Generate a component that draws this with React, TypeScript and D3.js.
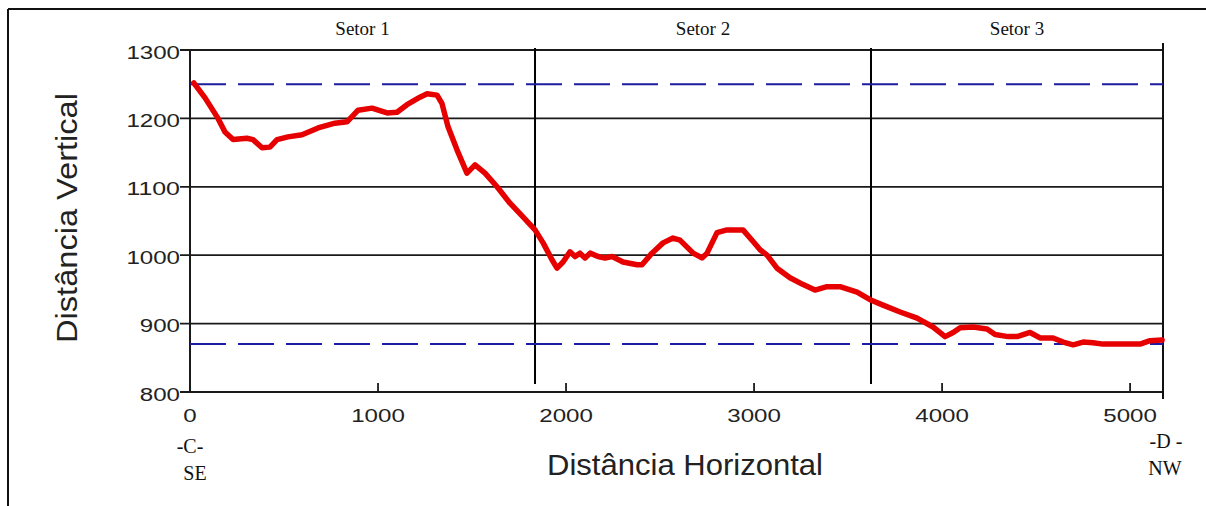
import React from "react";
import * as d3 from "d3";

// perfil: distância horizontal (m) x cota (m)
const distancias = [
  20, 80, 149, 186, 229, 303, 335, 383, 425, 463, 521, 596, 681, 771, 835, 894,
  968, 1048, 1101, 1154, 1223, 1261, 1314, 1340, 1372, 1420, 1473, 1516, 1569,
  1633, 1702, 1771, 1835, 1878, 1926, 1952, 1984, 2021, 2048, 2074, 2101, 2128,
  2170, 2207, 2245, 2303, 2378, 2404, 2457, 2516, 2569, 2606, 2676, 2723, 2750,
  2803, 2856, 2941, 2995, 3032, 3069, 3122, 3191, 3261, 3324, 3388, 3457, 3548,
  3617, 3686, 3777, 3867, 3952, 4016, 4059, 4096, 4165, 4239, 4282, 4351, 4399,
  4468, 4521, 4590, 4644, 4697, 4750, 4803, 4856, 4963, 5053, 5106, 5170,
];
const cotas = [
  1252, 1230, 1200, 1180, 1169, 1171, 1169, 1157, 1158, 1169, 1173, 1176, 1186,
  1193, 1195, 1212, 1215, 1208, 1209, 1220, 1231, 1236, 1234, 1222, 1188, 1154,
  1120, 1132, 1120, 1100, 1076, 1056, 1037, 1018, 993, 981, 990, 1005, 998,
  1003, 996, 1003, 998, 996, 998, 990, 986, 986, 1003, 1018, 1025, 1022, 1003,
  996, 1003, 1033, 1037, 1037, 1020, 1008, 1000, 981, 967, 957, 949, 954, 954,
  946, 935, 927, 917, 908, 895, 881, 887, 894, 895, 892, 884, 881, 881, 887,
  879, 879, 873, 869, 873, 872, 870, 870, 870, 875, 876,
];

const yTicks = [800, 900, 1000, 1100, 1200, 1300];
const xTicks = [0, 1000, 2000, 3000, 4000, 5000];
const limites = [1250, 870]; // linhas tracejadas
const setores = ["Setor 1", "Setor 2", "Setor 3"];
const divisoes = [1835, 3622];
const xMax = 5175;

const App = () => {
  const width = 1206;
  const height = 506;
  const left = 190;
  const right = 1163;
  const top = 50;
  const bottom = 392;

  const x = d3.scaleLinear().domain([0, xMax]).range([left, right]);
  const y = d3.scaleLinear().domain([800, 1300]).range([bottom, top]);

  const pontos = distancias.map((d, i) => [d, cotas[i]] as [number, number]);
  const linha = d3
    .line<[number, number]>()
    .x((d) => x(d[0]))
    .y((d) => y(d[1]));

  const bordas = [0, ...divisoes, xMax];
  const sans = "'Liberation Sans', Arial, sans-serif";
  const serif = "'Liberation Serif', 'Times New Roman', serif";

  return (
    <svg
      width={width}
      height={height}
      style={{ position: "absolute", left: 0, top: 0, background: "#fff" }}
    >
      {/* moldura */}
      <line x1={8} y1={9} x2={width} y2={9} stroke="#111" strokeWidth={2} />
      <line x1={8} y1={9} x2={8} y2={height} stroke="#111" strokeWidth={2} />

      {/* grade horizontal */}
      {yTicks.map((t) => (
        <g key={t}>
          <line
            x1={left - 10}
            x2={right}
            y1={y(t)}
            y2={y(t)}
            stroke="#1a1a1a"
            strokeWidth={1.8}
          />
          <text
            x={left - 10}
            y={y(t) + 8.5}
            textAnchor="end"
            fontFamily={sans}
            fontSize={18}
            fill="#222"
            textLength={String(t).length * 13.4}
            lengthAdjust="spacingAndGlyphs"
          >
            {t}
          </text>
        </g>
      ))}

      {/* eixo y */}
      <line x1={left} x2={left} y1={top} y2={bottom} stroke="#1a1a1a" strokeWidth={2} />
      <line x1={right} x2={right} y1={43} y2={399} stroke="#111" strokeWidth={2} />

      {/* eixo x */}
      {xTicks.map((t) => (
        <g key={t}>
          <line
            x1={x(t)}
            x2={x(t)}
            y1={bottom}
            y2={bottom - 9}
            stroke="#1a1a1a"
            strokeWidth={1.8}
          />
          <text
            x={x(t)}
            y={422}
            textAnchor="middle"
            fontFamily={sans}
            fontSize={18}
            fill="#222"
            textLength={String(t).length * 13.4}
            lengthAdjust="spacingAndGlyphs"
          >
            {t}
          </text>
        </g>
      ))}

      {/* divisões dos setores */}
      {divisoes.map((d) => (
        <line key={d} x1={x(d)} x2={x(d)} y1={48} y2={384} stroke="#000" strokeWidth={2} />
      ))}
      {setores.map((s, i) => (
        <text
          key={s}
          x={(x(bordas[i]) + x(bordas[i + 1])) / 2}
          y={35}
          textAnchor="middle"
          fontFamily={serif}
          fontSize={19}
          fill="#111"
        >
          {s}
        </text>
      ))}

      {/* limites tracejados */}
      {limites.map((l) => (
        <line
          key={l}
          x1={left}
          x2={right}
          y1={y(l)}
          y2={y(l)}
          stroke="#1c1ca0"
          strokeWidth={2}
          strokeDasharray="36,12"
        />
      ))}

      {/* perfil */}
      <path
        d={linha(pontos) ?? ""}
        fill="none"
        stroke="#e60000"
        strokeWidth={5.5}
        strokeLinejoin="round"
        strokeLinecap="round"
      />

      {/* títulos dos eixos */}
      <text
        x={685}
        y={475}
        textAnchor="middle"
        fontFamily={sans}
        fontSize={30}
        fill="#222"
        textLength={276}
        lengthAdjust="spacingAndGlyphs"
      >
        Distância Horizontal
      </text>
      <text
        transform="translate(77,218) rotate(-90)"
        textAnchor="middle"
        fontFamily={sans}
        fontSize={30}
        fill="#222"
        textLength={250}
        lengthAdjust="spacingAndGlyphs"
      >
        Distância Vertical
      </text>

      {/* pontos extremos */}
      <text x={190} y={453} textAnchor="middle" fontFamily={serif} fontSize={20} fill="#111">
        -C-
      </text>
      <text x={195} y={480} textAnchor="middle" fontFamily={serif} fontSize={20} fill="#111">
        SE
      </text>
      <text x={1166} y={448} textAnchor="middle" fontFamily={serif} fontSize={20} fill="#111">
        -D -
      </text>
      <text x={1165} y={475} textAnchor="middle" fontFamily={serif} fontSize={20} fill="#111">
        NW
      </text>
    </svg>
  );
};

export default App;
